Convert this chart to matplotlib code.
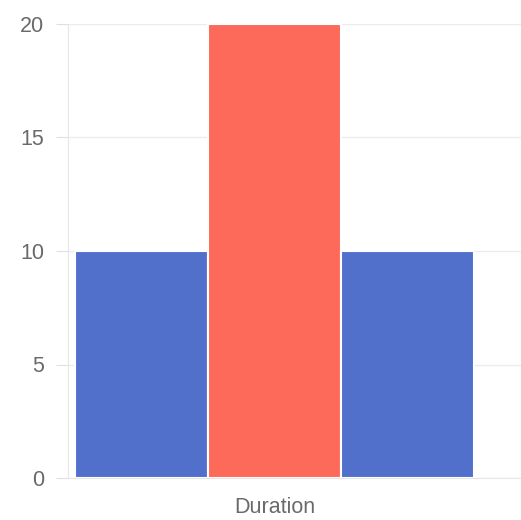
import matplotlib.pyplot as plt

category = ["Duration"]
series_values = [10, 20, 10]
series_colors = ["#5070cc", "#fd6a5a", "#5070cc"]
y_ticks = [0, 5, 10, 15, 20]

plt.rcParams["font.family"] = ["Liberation Sans", "DejaVu Sans"]

fig = plt.figure(figsize=(5.21, 5.20), dpi=100)
ax = fig.add_axes([68 / 521, 1 - 478 / 520, 1 - 68 / 521, (478 - 24) / 520])

offsets = [-1, 0, 1]
ax.bar(offsets, series_values, width=1.0, color=series_colors,
       edgecolor="white", linewidth=1.5, zorder=3)

ax.set_xlim(-1.55, 1.85)
ax.set_ylim(0, 20)
ax.set_yticks(y_ticks)
ax.set_xticks([0])
ax.set_xticklabels(category)

ax.grid(axis="y", color="#ececec", linewidth=1, zorder=0)
for side in ["top", "right"]:
    ax.spines[side].set_visible(False)
ax.spines["left"].set_color("#e6e6e6")
ax.spines["bottom"].set_color("#e6e6e6")

ax.tick_params(axis="y", length=9, color="#e0e0e0", pad=8,
               labelsize=15.5, labelcolor="#6a6a6a")
ax.tick_params(axis="x", length=0, pad=14,
               labelsize=15.5, labelcolor="#6a6a6a")

fig.savefig("out.png", dpi=100)
